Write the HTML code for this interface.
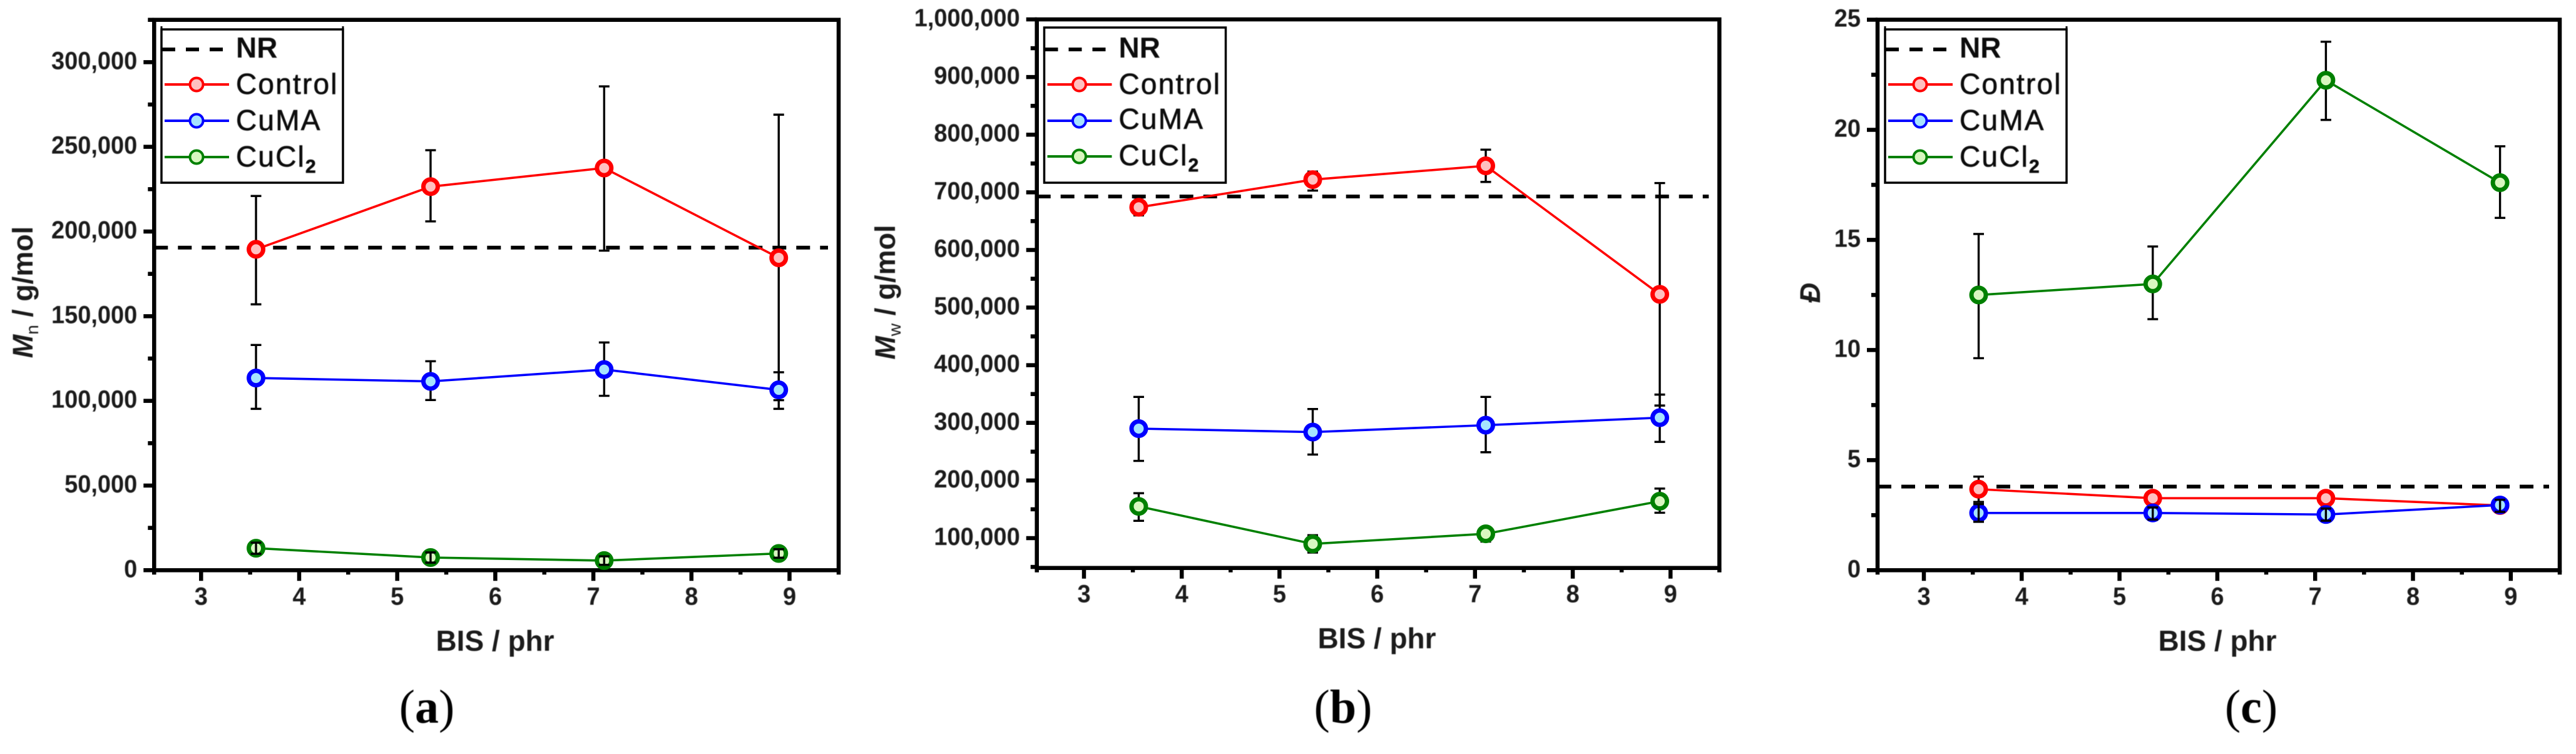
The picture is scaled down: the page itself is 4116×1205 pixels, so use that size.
<!DOCTYPE html>
<html lang="en">
<head>
<meta charset="utf-8">
<title>Mn, Mw and dispersity versus BIS content</title>
<style>
html,body{margin:0;padding:0;background:#fff;width:4116px;height:1205px;overflow:hidden}
svg{display:block}
text{font-family:"Liberation Sans",sans-serif;fill:#111;filter:url(#soft)}
.tick{font-weight:bold;font-size:40px;fill:#1a1a1a}
.xt{font-weight:bold;font-size:46px;text-anchor:middle;fill:#1a1a1a}
.yt{font-weight:bold;font-size:45px;text-anchor:middle;fill:#1a1a1a}
.lg{font-size:46px;letter-spacing:2.2px;stroke:#111;stroke-width:.7px}
.lgb{font-size:46px;font-weight:bold}
.cap{font-family:"Liberation Serif",serif;font-size:76px;text-anchor:middle;fill:#000}
</style>
</head>
<body>
<svg id="figure" width="4116" height="1205" viewBox="0 0 4116 1205" xmlns="http://www.w3.org/2000/svg">
  <defs><filter id="soft" x="-5%" y="-5%" width="110%" height="110%"><feGaussianBlur stdDeviation="0.6"/></filter></defs>
  <rect x="0" y="0" width="4116" height="1205" fill="#fff"/>

  <g id="panel-a">
    <g id="plot-a"></g>
    <text class="xt" x="791" y="1040">BIS / phr</text>
    <text class="yt" transform="translate(52,467) rotate(-90)"><tspan font-style="italic">M</tspan><tspan font-weight="normal" font-size="28" dy="9">n</tspan><tspan dy="-9"> / g/mol</tspan></text>
    <g transform="translate(246,0)">
      <rect x="12" y="47" width="290" height="245" fill="#fff" stroke="#000" stroke-width="3.5"/>
      <path d="M12 42V47M302 42V47" stroke="#000" stroke-width="3" fill="none"/>
      <line x1="13" y1="79" x2="113" y2="79" stroke="#000" stroke-width="6" stroke-dasharray="21 17"/>
      <text class="lgb" x="131" y="92">NR</text>
      <line x1="17" y1="135" x2="120" y2="135" stroke="#f00" stroke-width="4"/><circle cx="68" cy="135" r="10.5" fill="#ffc0c0" stroke="#f00" stroke-width="4"/>
      <text class="lg" x="131" y="150">Control</text>
      <line x1="17" y1="193" x2="120" y2="193" stroke="#00f" stroke-width="4"/><circle cx="68" cy="193" r="10.5" fill="#a6e3ff" stroke="#00f" stroke-width="4"/>
      <text class="lg" x="131" y="208">CuMA</text>
      <line x1="17" y1="251" x2="120" y2="251" stroke="#008000" stroke-width="4"/><circle cx="68" cy="251" r="10.5" fill="#d9f7c0" stroke="#008000" stroke-width="4"/>
      <text class="lg" x="131" y="266">CuCl<tspan font-size="30" font-weight="bold" dy="10">2</tspan></text>
    </g>
    <text class="cap" x="682" y="1155">(<tspan font-weight="bold">a</tspan>)</text>
  </g>

  <g id="panel-b">
    <g id="plot-b"></g>
    <text class="xt" x="2200" y="1036">BIS / phr</text>
    <text class="yt" transform="translate(1430,467) rotate(-90)"><tspan font-style="italic">M</tspan><tspan font-weight="normal" font-size="28" dy="9">w</tspan><tspan dy="-9"> / g/mol</tspan></text>
    <g transform="translate(1656.5,0)">
      <rect x="12" y="44" width="290" height="248" fill="#fff" stroke="#000" stroke-width="3.5"/>
      <line x1="13" y1="79" x2="113" y2="79" stroke="#000" stroke-width="6" stroke-dasharray="21 17"/>
      <text class="lgb" x="131" y="92">NR</text>
      <line x1="17" y1="135" x2="120" y2="135" stroke="#f00" stroke-width="4"/><circle cx="68" cy="135" r="10.5" fill="#ffc0c0" stroke="#f00" stroke-width="4"/>
      <text class="lg" x="131" y="150">Control</text>
      <line x1="17" y1="193" x2="120" y2="193" stroke="#00f" stroke-width="4"/><circle cx="68" cy="193" r="10.5" fill="#a6e3ff" stroke="#00f" stroke-width="4"/>
      <text class="lg" x="131" y="206">CuMA</text>
      <line x1="17" y1="250" x2="120" y2="250" stroke="#008000" stroke-width="4"/><circle cx="68" cy="250" r="10.5" fill="#d9f7c0" stroke="#008000" stroke-width="4"/>
      <text class="lg" x="131" y="264">CuCl<tspan font-size="30" font-weight="bold" dy="10">2</tspan></text>
    </g>
    <text class="cap" x="2146" y="1155">(<tspan font-weight="bold">b</tspan>)</text>
  </g>

  <g id="panel-c">
    <g id="plot-c"></g>
    <text class="xt" x="3543" y="1040">BIS / phr</text>
    <text class="yt" font-style="italic" transform="translate(2908,468) rotate(-90)">Đ</text>
    <g transform="translate(3000,0)">
      <rect x="12" y="47" width="290" height="245" fill="#fff" stroke="#000" stroke-width="3.5"/>
      <path d="M12 42V47M302 42V47" stroke="#000" stroke-width="3" fill="none"/>
      <line x1="13" y1="79" x2="113" y2="79" stroke="#000" stroke-width="6" stroke-dasharray="21 17"/>
      <text class="lgb" x="131" y="92">NR</text>
      <line x1="17" y1="135" x2="120" y2="135" stroke="#f00" stroke-width="4"/><circle cx="68" cy="135" r="10.5" fill="#ffc0c0" stroke="#f00" stroke-width="4"/>
      <text class="lg" x="131" y="150">Control</text>
      <line x1="17" y1="193" x2="120" y2="193" stroke="#00f" stroke-width="4"/><circle cx="68" cy="193" r="10.5" fill="#a6e3ff" stroke="#00f" stroke-width="4"/>
      <text class="lg" x="131" y="208">CuMA</text>
      <line x1="17" y1="251" x2="120" y2="251" stroke="#008000" stroke-width="4"/><circle cx="68" cy="251" r="10.5" fill="#d9f7c0" stroke="#008000" stroke-width="4"/>
      <text class="lg" x="131" y="266">CuCl<tspan font-size="30" font-weight="bold" dy="10">2</tspan></text>
    </g>
    <text class="cap" x="3597" y="1155">(<tspan font-weight="bold">c</tspan>)</text>
  </g>
</svg>

<script>
// ---------- shared categories ----------
const bisValues = [3.56, 5.34, 7.11, 8.89];
const xTickValues = [3, 4, 5, 6, 7, 8, 9];
const xTickLabels = ['3', '4', '5', '6', '7', '8', '9'];
const xMinorValues = [3.5, 4.5, 5.5, 6.5, 7.5, 8.5];

// ---------- panel a: Mn ----------
const aNR = 190500;
const aControl = [189500, 226500, 237500, 184500];
const aControlHigh = [221000, 248000, 285700, 269000];
const aControlLow = [157000, 206000, 188700, 100400];
const aCuMA = [113500, 111500, 118500, 106500];
const aCuMAHigh = [133000, 123400, 134500, 116900];
const aCuMALow = [95300, 100500, 103000, 95300];
const aCuCl2 = [13000, 7500, 5700, 9900];
const aCuCl2High = [16300, 10500, 8200, 12400];
const aCuCl2Low = [9700, 4500, 3200, 7400];
const aYTicks = [0, 50000, 100000, 150000, 200000, 250000, 300000];
const aYLabels = ['0', '50,000', '100,000', '150,000', '200,000', '250,000', '300,000'];
const aYMinor = [25000, 75000, 125000, 175000, 225000, 275000, 325000];

// ---------- panel b: Mw ----------
const bNR = 692700;
const bControl = [674000, 722000, 746000, 523000];
const bControlHigh = [691000, 736000, 774000, 716000];
const bControlLow = [660000, 703000, 718000, 330000];
const bCuMA = [290000, 284000, 296000, 309000];
const bCuMAHigh = [345000, 324000, 345000, 349000];
const bCuMALow = [234000, 245000, 249000, 267000];
const bCuCl2 = [155000, 90000, 107500, 164000];
const bCuCl2High = [178000, 105000, 117500, 186000];
const bCuCl2Low = [130000, 75000, 94000, 144000];
const bYTicks = [100000, 200000, 300000, 400000, 500000, 600000, 700000, 800000, 900000, 1000000];
const bYLabels = ['100,000', '200,000', '300,000', '400,000', '500,000', '600,000', '700,000', '800,000', '900,000', '1,000,000'];
const bYMinor = [50000, 150000, 250000, 350000, 450000, 550000, 650000, 750000, 850000, 950000];

// ---------- panel c: dispersity ----------
const cNR = 3.8;
const cControl = [3.68, 3.27, 3.27, 2.94];
const cControlHigh = [4.25, 3.55, 3.55, 3.1];
const cControlLow = [3.1, 3.0, 2.85, 2.75];
const cCuMA = [2.6, 2.6, 2.53, 2.96];
const cCuMAHigh = [3.0, 2.85, 2.8, 3.2];
const cCuMALow = [2.2, 2.3, 2.25, 2.65];
const cCuCl2 = [12.5, 13.0, 22.25, 17.6];
const cCuCl2High = [15.27, 14.7, 24.0, 19.25];
const cCuCl2Low = [9.63, 11.4, 20.45, 16.0];
const cYTicks = [0, 5, 10, 15, 20, 25];
const cYLabels = ['0', '5', '10', '15', '20', '25'];
const cYMinor = [2.5, 7.5, 12.5, 17.5, 22.5];

const SVG_NS = 'http://www.w3.org/2000/svg';
function make(tag, parent, attrs) {
  const node = document.createElementNS(SVG_NS, tag);
  for (const k in attrs) node.setAttribute(k, attrs[k]);
  parent.appendChild(node);
  return node;
}

function drawSeries(g, key, color, fill, vals, hi, lo, X, Y, barsOnTop) {
  const group = make('g', g, {});
  
  

  const points = vals.map((v, i) => X(bisValues[i]).toFixed(1) + ',' + Y(v).toFixed(1)).join(' ');
  const line = make('polyline', group, { points: points, fill: 'none', stroke: color, 'stroke-width': 3.6 });
  
  

  function bars() {
    vals.forEach((v, i) => {
      const x = X(bisValues[i]);
      const d = 'M' + (x - 8.5) + ' ' + Y(hi[i]) + 'H' + (x + 8.5) +
                'M' + x + ' ' + Y(hi[i]) + 'V' + Y(lo[i]) +
                'M' + (x - 8.5) + ' ' + Y(lo[i]) + 'H' + (x + 8.5);
      const bar = make('path', group, { d: d, fill: 'none', stroke: '#000', 'stroke-width': 3.4 });
      
      
    });
  }
  function points_() {
    vals.forEach((v, i) => {
      const pt = make('circle', group, { cx: X(bisValues[i]), cy: Y(v), r: 11.5, fill: fill, stroke: color, 'stroke-width': 7 });
      
      
    });
  }
  if (barsOnTop) { points_(); bars(); } else { bars(); points_(); }
}

function drawPanel(id, geom, nr, yTicks, yLabels, yMinor, series) {
  const g = document.getElementById('plot-' + id);
  const X = v => geom.x3 + (v - 3) * geom.unit;
  const Y = v => geom.bottom - (v - geom.yMin) / (geom.yMax - geom.yMin) * (geom.bottom - geom.top);

  const frame = make('rect', g, { x: geom.left, y: geom.top, width: geom.right - geom.left, height: geom.bottom - geom.top, fill: 'none', stroke: '#000', 'stroke-width': 6.5 });
  
  

  xTickValues.forEach((v, i) => {
    const t = make('line', g, { x1: X(v), x2: X(v), y1: geom.bottom, y2: geom.bottom + 17, stroke: '#000', 'stroke-width': 6.5 });
    
    
    const l = make('text', g, { class: 'tick', transform: 'translate(' + X(v) + ',' + (geom.bottom + 55) + ') scale(0.95,1)', 'text-anchor': 'middle' });
    l.textContent = xTickLabels[i];
    
    
  });
  xMinorValues.forEach(v => {
    const t = make('line', g, { x1: X(v), x2: X(v), y1: geom.bottom, y2: geom.bottom + 7, stroke: '#000', 'stroke-width': 6.5 });
    
    
  });
  [geom.left, geom.right].forEach(x => {
    const t = make('line', g, { x1: x, x2: x, y1: geom.bottom, y2: geom.bottom + 7, stroke: '#000', 'stroke-width': 6.5 });
    
    
  });
  yTicks.forEach((v, i) => {
    const t = make('line', g, { x1: geom.left - 17, x2: geom.left, y1: Y(v), y2: Y(v), stroke: '#000', 'stroke-width': 6.5 });
    
    
    const l = make('text', g, { class: 'tick', transform: 'translate(' + (geom.left - 27) + ',' + (Y(v) + 11) + ') scale(0.95,1)', 'text-anchor': 'end' });
    l.textContent = yLabels[i];
    
    
  });
  yMinor.forEach(v => {
    const t = make('line', g, { x1: geom.left - 10, x2: geom.left, y1: Y(v), y2: Y(v), stroke: '#000', 'stroke-width': 6.5 });
    
    
  });

  const nrLine = make('line', g, { x1: geom.left, x2: geom.right - 17, y1: Y(nr), y2: Y(nr), stroke: '#000', 'stroke-width': 6, 'stroke-dasharray': '22 16' });
  
  

  series.forEach(s => drawSeries(g, s.key + '-' + id, s.color, s.fill, s.vals, s.hi, s.lo, X, Y, s.barsOnTop));
}

const RED = '#ff0000', BLUE = '#0000ff', GREEN = '#008000';
const PINK = '#ffc0c0', SKY = '#a6e3ff', LIME = '#d9f7c0';

drawPanel('a',
  { left: 246.3, right: 1340, top: 31.7, bottom: 911.3, x3: 321.3, unit: 156.7, yMin: 0, yMax: 325000 },
  aNR, aYTicks, aYLabels, aYMinor,
  [
    { key: 'control', color: RED, fill: PINK, vals: aControl, hi: aControlHigh, lo: aControlLow },
    { key: 'cuma', color: BLUE, fill: SKY, vals: aCuMA, hi: aCuMAHigh, lo: aCuMALow },
    { key: 'cucl2', color: GREEN, fill: LIME, vals: aCuCl2, hi: aCuCl2High, lo: aCuCl2Low, barsOnTop: true }
  ]);

drawPanel('b',
  { left: 1656.7, right: 2747.3, top: 31, bottom: 907.7, x3: 1732, unit: 156.2, yMin: 48200, yMax: 1000000 },
  bNR, bYTicks, bYLabels, bYMinor,
  [
    { key: 'control', color: RED, fill: PINK, vals: bControl, hi: bControlHigh, lo: bControlLow },
    { key: 'cuma', color: BLUE, fill: SKY, vals: bCuMA, hi: bCuMAHigh, lo: bCuMALow },
    { key: 'cucl2', color: GREEN, fill: LIME, vals: bCuCl2, hi: bCuCl2High, lo: bCuCl2Low }
  ]);

drawPanel('c',
  { left: 3000, right: 4090, top: 31.5, bottom: 911.3, x3: 3074, unit: 156.3, yMin: 0, yMax: 25 },
  cNR, cYTicks, cYLabels, cYMinor,
  [
    { key: 'control', color: RED, fill: PINK, vals: cControl, hi: cControlHigh, lo: cControlLow },
    { key: 'cuma', color: BLUE, fill: SKY, vals: cCuMA, hi: cCuMAHigh, lo: cCuMALow, barsOnTop: true },
    { key: 'cucl2', color: GREEN, fill: LIME, vals: cCuCl2, hi: cCuCl2High, lo: cCuCl2Low }
  ]);
</script>
</body>
</html>
